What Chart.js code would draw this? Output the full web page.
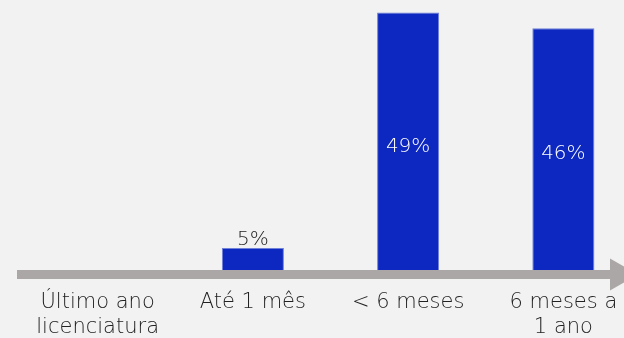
<!DOCTYPE html>
<html>
<head>
<meta charset="utf-8">
<script src="https://cdn.jsdelivr.net/npm/chart.js@4/dist/chart.umd.min.js"></script>
<style>
html,body{margin:0;padding:0;background:#f2f2f2;overflow:hidden;width:624px;height:338px;}
#wrap{position:relative;width:660px;height:338px;}
</style>
</head>
<body>
<div id="wrap"><canvas id="c"></canvas></div>
<script>
const categories = [["Último ano","licenciatura"], "Até 1 mês", "< 6 meses", ["6 meses a","1 ano"]];
const values = [0, 4.2, 49, 46];
const valueLabels = ["", "5%", "49%", "46%"];

const FONT = "'DejaVu Sans', sans-serif";

const arrowAxis = {
  id: 'arrowAxis',
  afterDatasetsDraw(chart) {
    const ctx = chart.ctx, a = chart.chartArea;
    const y0 = a.bottom, h = 9, yc = y0 + h / 2;
    ctx.save();
    ctx.fillStyle = '#aba7a6';
    ctx.fillRect(a.left - 3, y0, 611 - (a.left - 3), h);
    ctx.beginPath();
    ctx.moveTo(610, yc - 16);
    ctx.lineTo(638, yc);
    ctx.lineTo(610, yc + 16);
    ctx.closePath();
    ctx.fill();
    ctx.restore();
  }
};

const valueLabelPlugin = {
  id: 'valueLabelPlugin',
  afterDatasetsDraw(chart) {
    const ctx = chart.ctx;
    const meta = chart.getDatasetMeta(0);
    ctx.save();
    ctx.font = "200 20px " + FONT;
    ctx.textAlign = 'center';
    meta.data.forEach((bar, i) => {
      const txt = valueLabels[i];
      if (!txt) return;
      if (values[i] > 20) {
        ctx.fillStyle = '#ffffff';
        ctx.textBaseline = 'middle';
        ctx.fillText(txt, bar.x, (bar.y + bar.base) / 2 + 5);
      } else {
        ctx.fillStyle = '#222222';
        ctx.textBaseline = 'alphabetic';
        ctx.fillText(txt, bar.x, bar.y - 3);
      }
    });
    ctx.restore();
  }
};

new Chart(document.getElementById('c'), {
  type: 'bar',
  data: {
    labels: categories,
    datasets: [{
      data: values,
      backgroundColor: '#0c28c0',
      borderColor: '#6f80d8',
      borderWidth: {left: 1, right: 1, top: 1, bottom: 0},
      borderSkipped: 'bottom',
      barPercentage: 0.4,
      categoryPercentage: 1
    }]
  },
  options: {
    responsive: true,
    maintainAspectRatio: false,
    animation: false,
    layout: { padding: { left: 20, right: 19, top: 0, bottom: 0 } },
    plugins: { legend: { display: false }, tooltip: { enabled: false } },
    scales: {
      x: {
        grid: { display: false, drawTicks: false },
        border: { display: false },
        ticks: {
          color: '#222222',
          font: { family: FONT, size: 21, weight: 200, lineHeight: '25px' },
          padding: 20,
          maxRotation: 0,
          autoSkip: false
        },
        afterFit(scale) { scale.height = 68; }
      },
      y: {
        display: false,
        min: 0,
        max: 51.4
      }
    }
  },
  plugins: [valueLabelPlugin, arrowAxis]
});
</script>
</body>
</html>
